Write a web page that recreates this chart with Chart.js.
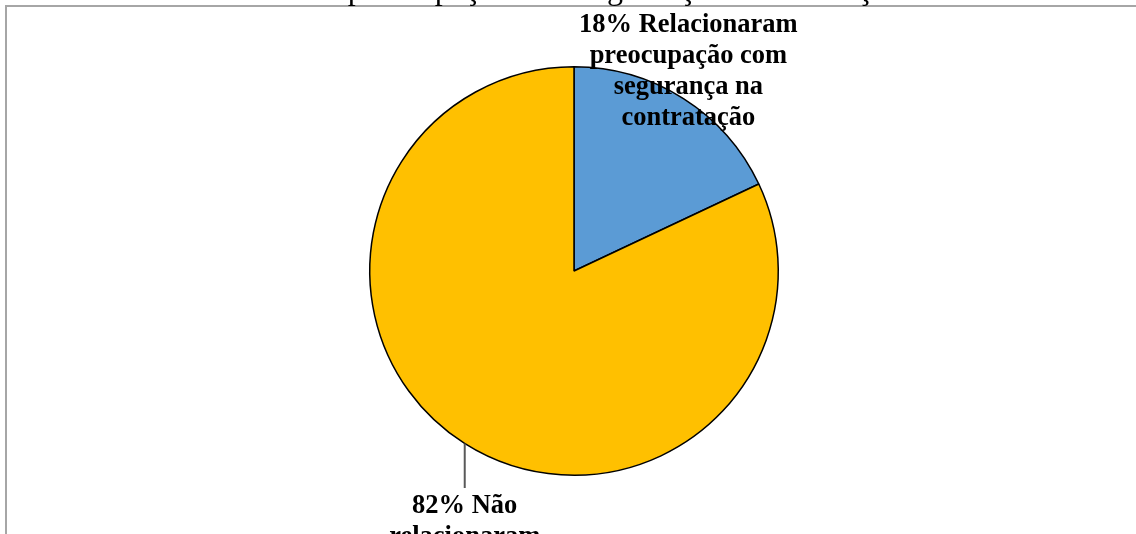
<!DOCTYPE html>
<html>
<head>
<meta charset="utf-8">
<script src="https://cdn.jsdelivr.net/npm/chart.js@4/dist/chart.umd.min.js"></script>
<style>
  html, body { margin: 0; padding: 0; background: #fff; overflow: hidden; }
  canvas { display: block; }
</style>
</head>
<body>
<canvas id="pie" width="1136" height="534"></canvas>
<script>
// data
const categories = ['Relacionaram preocupação com segurança na contratação', 'Não relacionaram'];
const values = [18, 82];
const colors = ['#5B9BD5', '#FFC000'];
const labelLines = [
  ['18% Relacionaram', 'preocupação com', 'segurança na', 'contratação'],
  ['82% Não', 'relacionaram']
];
const titleText = 'Relacionaram preocupação com segurança na contratação';

// frame + clipped title + data labels
const decor = {
  id: 'decor',
  beforeDraw(chart) {
    const ctx = chart.ctx;
    ctx.save();
    ctx.strokeStyle = '#a6a6a6';
    ctx.lineWidth = 2;
    ctx.beginPath();
    ctx.moveTo(6, 534);
    ctx.lineTo(6, 6);
    ctx.lineTo(1136, 6);
    ctx.stroke();
    // title sits mostly above the visible area, only descenders show
    ctx.fillStyle = '#000';
    ctx.font = '32px "Liberation Serif", "Times New Roman", serif';
    ctx.textAlign = 'center';
    ctx.textBaseline = 'alphabetic';
    ctx.fillText(titleText, 532, -1);
    ctx.restore();
  },
  afterDraw(chart) {
    const ctx = chart.ctx;
    const arcs = chart.getDatasetMeta(0).data;
    const a0 = arcs[0];
    const cx = a0.x, cy = a0.y, r = a0.outerRadius;
    ctx.save();
    ctx.fillStyle = '#000';
    ctx.font = 'bold 26.5px "Liberation Serif", "Times New Roman", serif';
    ctx.textAlign = 'center';
    ctx.textBaseline = 'alphabetic';
    // blue slice label
    labelLines[0].forEach((t, i) => ctx.fillText(t, cx + r * 0.56, cy - 239 + i * 31));
    // yellow slice label with leader line
    const lx = cx - r * 0.535;
    const edgeY = cy + Math.sqrt(r * r - (lx - cx) * (lx - cx));
    ctx.strokeStyle = '#595959';
    ctx.lineWidth = 2;
    ctx.beginPath();
    ctx.moveTo(lx, edgeY);
    ctx.lineTo(lx, cy + 217);
    ctx.stroke();
    labelLines[1].forEach((t, i) => ctx.fillText(t, lx, cy + 242 + i * 31));
    ctx.restore();
  }
};

new Chart(document.getElementById('pie'), {
  type: 'pie',
  data: {
    labels: categories,
    datasets: [{
      data: values,
      backgroundColor: colors,
      borderColor: '#000',
      borderWidth: 1.5
    }]
  },
  options: {
    responsive: false,
    animation: false,
    layout: { padding: { top: 66, bottom: 58, left: 12, right: 0 } },
    plugins: {
      legend: { display: false },
      tooltip: { enabled: false }
    }
  },
  plugins: [decor]
});
</script>
</body>
</html>
